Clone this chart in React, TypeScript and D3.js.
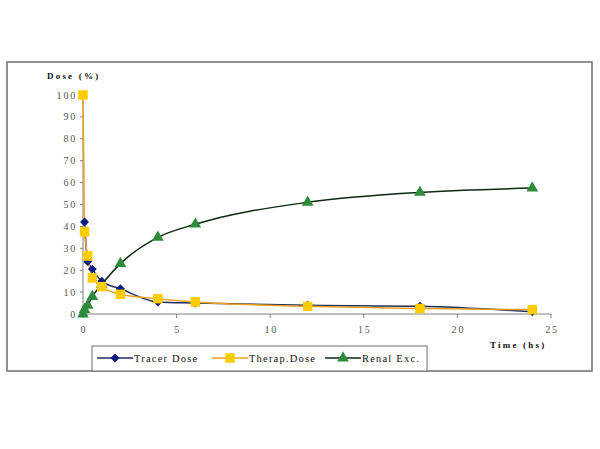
import React, { useEffect, useRef } from 'react';
import * as d3 from 'd3';

const tracerTime = [0.083, 0.25, 0.5, 1, 2, 4, 6, 12, 18, 24];
const tracerDose = [42, 24, 20.5, 15, 11.5, 5.5, 5, 4, 3.5, 1];

const therapTime = [0, 0.083, 0.25, 0.5, 1, 2, 4, 6, 12, 18, 24];
const therapDose = [100, 37.5, 26.5, 16.5, 12.5, 9, 7, 5.5, 3.5, 2.5, 2];

const renalTime = [0, 0.083, 0.25, 0.5, 1, 2, 4, 6, 12, 18, 24];
const renalExc = [0, 2, 4, 8, 13.5, 23, 35, 41, 51, 55.5, 57.5];

const xTicks = [0, 5, 10, 15, 20, 25];
const yTicks = [0, 10, 20, 30, 40, 50, 60, 70, 80, 90, 100];

const seriesNames = ['Tracer Dose', 'Therap.Dose', 'Renal Exc.'];

const App = () => {
  const svgRef = useRef<SVGSVGElement>(null);

  useEffect(() => {
    const svg = d3.select(svgRef.current);
    svg.selectAll('*').remove();

    const x = d3.scaleLinear().domain([0, 25]).range([83, 551]);
    const y = d3.scaleLinear().domain([0, 100]).range([314, 95]);
    const font = '"Liberation Serif", "Times New Roman", serif';

    // outer frame
    svg.append('rect')
      .attr('x', 7).attr('y', 62).attr('width', 585).attr('height', 309)
      .attr('fill', 'white').attr('stroke', '#6e6e6e').attr('stroke-width', 1.5);

    // axes
    const axisColor = '#808080';
    svg.append('line').attr('x1', x(0)).attr('x2', x(0)).attr('y1', y(100)).attr('y2', y(0))
      .attr('stroke', axisColor);
    svg.append('line').attr('x1', x(0)).attr('x2', x(25)).attr('y1', y(0)).attr('y2', y(0))
      .attr('stroke', axisColor);

    yTicks.forEach(t => {
      svg.append('line').attr('x1', x(0) - 3).attr('x2', x(0)).attr('y1', y(t)).attr('y2', y(t))
        .attr('stroke', axisColor);
      svg.append('text').text(t).attr('x', x(0) - 6).attr('y', y(t) + 3.5)
        .attr('text-anchor', 'end').attr('font-family', font).attr('font-size', 10)
        .attr('letter-spacing', 1.8).attr('fill', '#555');
    });
    xTicks.forEach(t => {
      svg.append('line').attr('x1', x(t)).attr('x2', x(t)).attr('y1', y(0)).attr('y2', y(0) + 4)
        .attr('stroke', axisColor);
      svg.append('text').text(t).attr('x', x(t) + 1).attr('y', y(0) + 19)
        .attr('text-anchor', 'middle').attr('font-family', font).attr('font-size', 10)
        .attr('letter-spacing', 1.8).attr('fill', '#555');
    });

    svg.append('text').text('Dose (%)').attr('x', 47).attr('y', 79)
      .attr('font-family', font).attr('font-size', 9).attr('font-weight', 'bold')
      .attr('letter-spacing', 2.2).attr('fill', '#111');
    svg.append('text').text('Time (hs)').attr('x', 490).attr('y', 348)
      .attr('font-family', font).attr('font-size', 9).attr('font-weight', 'bold')
      .attr('letter-spacing', 2.2).attr('fill', '#111');

    const line = d3.line<[number, number]>()
      .x(d => x(d[0])).y(d => y(d[1])).curve(d3.curveMonotoneX);

    const series = [
      { t: tracerTime, v: tracerDose, stroke: '#1c2f5e', fill: '#0a1a80', shape: d3.symbolSquare, size: 40, rot: 45 },
      { t: therapTime, v: therapDose, stroke: '#f0a020', fill: '#ffcc00', shape: d3.symbolSquare, size: 90, rot: 0 },
      { t: renalTime, v: renalExc, stroke: '#0d2a12', fill: '#2e8b3a', shape: d3.symbolTriangle, size: 60, rot: 0 },
    ];

    const drawOrder = [2, 0, 1];
    drawOrder.forEach(i => {
      const s = series[i];
      const pts = s.t.map((t, j) => [t, s.v[j]] as [number, number]);
      svg.append('path').attr('d', line(pts)).attr('fill', 'none')
        .attr('stroke', s.stroke).attr('stroke-width', 1.5);
    });
    drawOrder.forEach(i => {
      const s = series[i];
      const sym = d3.symbol().type(s.shape).size(s.size);
      s.t.forEach((t, j) => {
        svg.append('path').attr('d', sym())
          .attr('transform', `translate(${x(t)},${y(s.v[j])}) rotate(${s.rot})`)
          .attr('fill', s.fill);
      });
    });

    // legend
    svg.append('rect').attr('x', 92).attr('y', 346).attr('width', 335).attr('height', 25)
      .attr('fill', 'white').attr('stroke', '#6e6e6e').attr('stroke-width', 1);
    const legendX = [97, 212, 325];
    series.forEach((s, i) => {
      const lx = legendX[i];
      const ly = 358;
      svg.append('line').attr('x1', lx).attr('x2', lx + 36).attr('y1', ly).attr('y2', ly)
        .attr('stroke', s.stroke).attr('stroke-width', 1.5);
      svg.append('path').attr('d', d3.symbol().type(s.shape).size(s.size)())
        .attr('transform', `translate(${lx + 18},${ly}) rotate(${s.rot})`).attr('fill', s.fill);
      svg.append('text').text(seriesNames[i]).attr('x', lx + 37).attr('y', ly + 3.5)
        .attr('font-family', font).attr('font-size', 10.5).attr('letter-spacing', 1.2)
        .attr('fill', '#111');
    });
  }, []);

  return (
    <svg ref={svgRef} width={600} height={449}
      style={{ position: 'absolute', left: 0, top: 0, background: 'white' }} />
  );
};

export default App;
